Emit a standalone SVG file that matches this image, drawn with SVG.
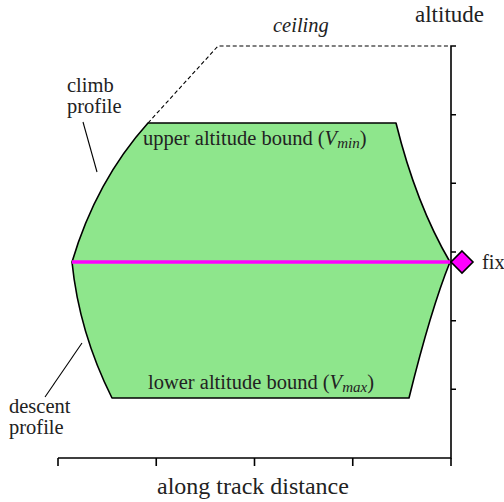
<svg xmlns="http://www.w3.org/2000/svg" width="504" height="502" viewBox="0 0 504 502" font-family="Times New Roman">
<rect width="504" height="502" fill="#fff"/>
<g id="envelope">
<path d="M148,123 H396 Q416,204 450,262 Q431,309 409,398 H112 Q79,332 72,262 Q96,181 148,123 Z" fill="#8ee68c" stroke="#000" stroke-width="1.6" stroke-linejoin="round"/>
</g>
<g id="ceiling-line">
<path d="M148,123 L218,46 H449" fill="none" stroke="#000" stroke-width="1.1" stroke-dasharray="4,2.6"/>
</g>
<g id="fix-line">
<line x1="72" y1="262" x2="450" y2="262" stroke="#ff00ff" stroke-width="3.5"/>
</g>
<g id="axes" fill="none" stroke="#000" stroke-width="1.6">
<path d="M456,46 H451 V458 H58"/>
<path d="M451,114.7 h5 M451,183.3 h5 M451,252 h5 M451,320.7 h5 M451,389.3 h5"/>
<path d="M58,458 v8 M156.25,458 v8 M254.5,458 v8 M352.75,458 v8 M451,458 v8"/>
</g>
<g id="fix">
<polygon points="462,251 473,262 462,273 451,262" fill="#ff00ff" stroke="#000" stroke-width="1.6"/>
<text x="482" y="269" font-size="20.5" font-family="Times New Roman" style="font-family:'Liberation Serif',serif" fill="#222">fix</text>
</g>
<g id="connectors" stroke="#000" stroke-width="1.1">
<line x1="83" y1="122" x2="97" y2="172"/>
<line x1="45" y1="397" x2="82" y2="343"/>
</g>
<g id="labels" fill="#222" font-size="20.5">
<text x="415" y="22" font-size="23" style="font-family:'Liberation Serif',serif">altitude</text>
<text x="273" y="32" font-style="italic" style="font-family:'Liberation Serif',serif">ceiling</text>
<text x="67" y="92" style="font-family:'Liberation Serif',serif">climb</text>
<text x="67" y="113" style="font-family:'Liberation Serif',serif">profile</text>
<text x="9" y="413" style="font-family:'Liberation Serif',serif">descent</text>
<text x="9" y="434" style="font-family:'Liberation Serif',serif">profile</text>
<text x="143" y="145" style="font-family:'Liberation Serif',serif">upper altitude bound (<tspan font-style="italic">V</tspan><tspan font-style="italic" font-size="15" dy="3">min</tspan><tspan dy="-3">)</tspan></text>
<text x="148" y="389" style="font-family:'Liberation Serif',serif">lower altitude bound (<tspan font-style="italic">V</tspan><tspan font-style="italic" font-size="15" dy="3">max</tspan><tspan dy="-3">)</tspan></text>
<text x="157" y="494" font-size="24" style="font-family:'Liberation Serif',serif">along track distance</text>
</g>
</svg>
